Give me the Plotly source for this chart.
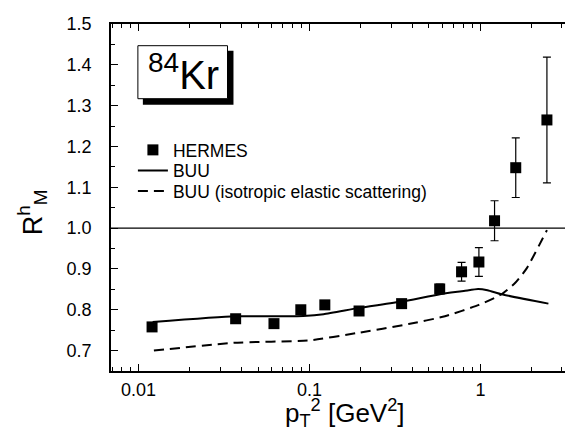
import plotly.graph_objects as go

# HERMES data
pt2 = [0.012, 0.037, 0.062, 0.089, 0.123, 0.195, 0.346, 0.578, 0.776, 0.98, 1.21, 1.61, 2.45]
rm = [0.758, 0.778, 0.766, 0.800, 0.812, 0.797, 0.815, 0.851, 0.893, 0.917, 1.018, 1.148, 1.265]
rm_err = [0.006, 0.006, 0.006, 0.006, 0.006, 0.006, 0.006, 0.012, 0.023, 0.035, 0.049, 0.073, 0.154]

# BUU curve
buu_x = [0.0121, 0.0365, 0.062, 0.092, 0.121, 0.192, 0.346, 0.58, 0.80, 0.97, 1.1, 1.33, 2.5]
buu_y = [0.770, 0.784, 0.784, 0.785, 0.789, 0.804, 0.820, 0.838, 0.846, 0.851, 0.848, 0.838, 0.815]

# BUU (isotropic elastic scattering)
iso_x = [0.0123, 0.036, 0.1, 0.19, 0.38, 0.62, 0.98, 1.33, 1.6, 1.87, 2.45]
iso_y = [0.700, 0.719, 0.725, 0.743, 0.765, 0.784, 0.812, 0.838, 0.866, 0.902, 0.995]

x_tickvals = [0.01, 0.1, 1]
x_ticktext = ["0.01", "0.1", "1"]

FONT = "Arial, Liberation Sans, sans-serif"

fig = go.Figure()
fig.add_trace(go.Scatter(
    x=pt2, y=rm, mode="markers", name="HERMES", legend="legend",
    marker=dict(symbol="square", size=11, color="black"),
    error_y=dict(type="data", array=rm_err, color="black", thickness=1.2, width=4),
))
fig.add_trace(go.Scatter(
    x=buu_x, y=buu_y, mode="lines", name="BUU", legend="legend2",
    line=dict(color="black", width=2, shape="spline", smoothing=0.5),
))
fig.add_trace(go.Scatter(
    x=iso_x, y=iso_y, mode="lines", name="BUU (isotropic elastic scattering)", legend="legend3",
    line=dict(color="black", width=2, dash="10px,6px", shape="spline", smoothing=0.5),
))

# reference line at 1.0
fig.add_shape(type="line", xref="paper", x0=0, x1=1, yref="y", y0=1.0, y1=1.0,
              line=dict(color="black", width=1.3), layer="below")

# pixel -> paper helpers (plot area: x 103..572, y 16..363)
def px(xp):
    return (xp - 103) / 469.0
def py(yp):
    return (363 - yp) / 347.0

# 84Kr box with shadow
fig.add_shape(type="rect", xref="paper", yref="paper",
              x0=px(135), x1=px(226), y0=py(96.7), y1=py(42.7),
              fillcolor="black", line=dict(width=0))
fig.add_shape(type="rect", xref="paper", yref="paper",
              x0=px(130), x1=px(220), y0=py(90.7), y1=py(37.7),
              fillcolor="white", line=dict(color="black", width=1))
fig.add_annotation(xref="paper", yref="paper", x=px(176), y=py(64),
                   text="<sup>84</sup>Kr", showarrow=False,
                   font=dict(family=FONT, size=40, color="black"),
                   xanchor="center", yanchor="middle")

# y-axis title
fig.add_annotation(xref="paper", yref="paper", x=px(24), y=py(204),
                   text="R<sup>h</sup><sub>M</sub>", showarrow=False, textangle=-90,
                   font=dict(family=FONT, size=27, color="black"),
                   xanchor="center", yanchor="middle")

# x-axis title
fig.add_annotation(xref="paper", yref="paper", x=0.5, y=py(405),
                   text="p<sub>T</sub><sup>2</sup> [GeV<sup>2</sup>]", showarrow=False,
                   font=dict(family=FONT, size=26, color="black"),
                   xanchor="center", yanchor="middle")

axis_common = dict(
    showline=True, linecolor="black", linewidth=1.8, mirror="allticks",
    ticks="inside", ticklen=7, tickwidth=1.4, tickcolor="black",
    showgrid=False, zeroline=False,
    tickfont=dict(family=FONT, size=18, color="black"),
)

fig.update_xaxes(
    type="log", range=[-2.161, 0.571],
    tickvals=x_tickvals, ticktext=x_ticktext,
    minor=dict(ticks="inside", ticklen=4, tickwidth=1.2, tickcolor="black",
               tickvals=[0.007, 0.008, 0.009, 0.02, 0.03, 0.04, 0.05, 0.06, 0.07, 0.08, 0.09,
                         0.2, 0.3, 0.4, 0.5, 0.6, 0.7, 0.8, 0.9, 2, 3]),
    ticklabelstandoff=1,
    **axis_common,
)
fig.update_yaxes(
    range=[0.65, 1.5], tick0=0.7, dtick=0.1, tickformat=".1f",
    minor=dict(ticks="inside", ticklen=4, tickwidth=1.2, tickcolor="black", dtick=0.05),
    ticklabelstandoff=14,
    **axis_common,
)

leg = dict(xanchor="left", yanchor="middle", bgcolor="rgba(0,0,0,0)",
           font=dict(family=FONT, size=17.5, color="black"), borderwidth=0)

fig.update_layout(
    width=573, height=430,
    margin=dict(l=103, r=1, t=16, b=67),
    paper_bgcolor="white", plot_bgcolor="white",
    showlegend=True,
    legend=dict(x=px(125), y=py(142), **leg),
    legend2=dict(x=px(125), y=py(162.5), **leg),
    legend3=dict(x=px(125), y=py(183), **leg),
)

fig.write_html("out.html")
